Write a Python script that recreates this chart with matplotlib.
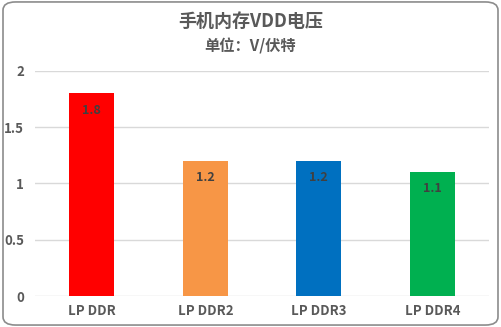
import matplotlib
matplotlib.use("Agg")
import matplotlib.pyplot as plt
from matplotlib.patches import FancyBboxPatch

plt.rcParams['font.family'] = ['Noto Sans CJK SC', 'DejaVu Sans']

categories = ["LP DDR", "LP DDR2", "LP DDR3", "LP DDR4"]
voltages = [1.8, 1.2, 1.2, 1.1]
colors = ["#FF0000", "#F79646", "#0070C0", "#00B050"]
yticks = [0, 0.5, 1, 1.5, 2]
ytick_labels = ["0", "0.5", "1", "1.5", "2"]
title = "手机内存VDD电压"
subtitle = "单位：V/伏特"

fig = plt.figure(figsize=(5.01, 3.27), dpi=100)
fig.patch.set_facecolor("white")

# rounded outer frame
frame = FancyBboxPatch((0.006, 0.006), 0.988, 0.988,
                       boxstyle="round,pad=0,rounding_size=0.025",
                       transform=fig.transFigure, facecolor="none",
                       edgecolor="#8C8C8C", linewidth=1.2, zorder=-1)
fig.patches.append(frame)

ax = fig.add_axes([0.0699, 0.0948, 0.9062, 0.6882])
ax.set_facecolor("none")
x = range(len(categories))
bars = ax.bar(x, voltages, width=0.4, color=colors, zorder=3)

ax.set_xlim(-0.5, len(categories) - 0.5)
ax.set_ylim(0, 2)
ax.set_yticks(yticks)
ax.set_yticklabels(ytick_labels)
ax.set_xticks(list(x))
ax.set_xticklabels(categories)
ax.grid(axis="y", color="#D9D9D9", linewidth=1, zorder=0)
for s in ax.spines.values():
    s.set_visible(False)
ax.tick_params(axis="both", length=0, labelsize=9.5, labelcolor="#595959")
ax.tick_params(axis="y", pad=8)
ax.tick_params(axis="x", pad=6)
for lab in ax.get_xticklabels() + ax.get_yticklabels():
    lab.set_fontweight("bold")

for b, v in zip(bars, voltages):
    ax.annotate(f"{v}", (b.get_x() + b.get_width() / 2, v),
                xytext=(0, -12), textcoords="offset points",
                ha="center", va="center", fontsize=9, fontweight="bold",
                color="#404040", zorder=4)

fig.text(0.5, 0.933, title, ha="center", va="center", fontsize=13,
         fontweight="bold", color="#595959")
fig.text(0.5, 0.857, subtitle, ha="center", va="center", fontsize=11,
         fontweight="bold", color="#595959")

fig.savefig("out.png", dpi=100)
